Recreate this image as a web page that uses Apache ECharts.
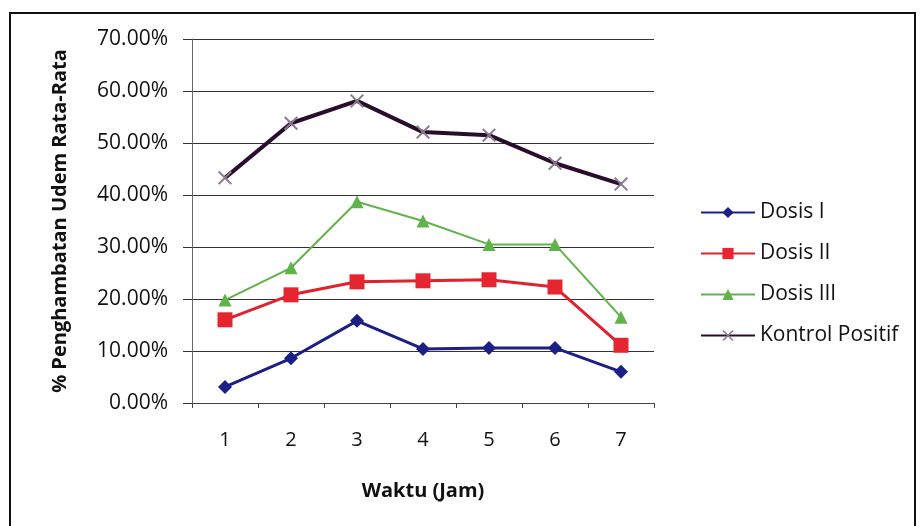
<!DOCTYPE html>
<html>
<head>
<meta charset="utf-8">
<script src="https://cdn.jsdelivr.net/npm/echarts@6/dist/echarts.min.js"></script>
<style>
  html, body { margin: 0; padding: 0; background: #ffffff; }
  #chart { width: 922px; height: 526px; }
</style>
</head>
<body>
<div id="chart"></div>
<script>
// Time points (hours)
const categories = ['1', '2', '3', '4', '5', '6', '7'];

// Mean oedema inhibition, in percent
const dosisI = [3.1, 8.6, 15.8, 10.4, 10.6, 10.6, 6.0];
const dosisII = [16.0, 20.8, 23.3, 23.5, 23.7, 22.3, 11.1];
const dosisIII = [19.8, 26.0, 38.7, 35.0, 30.5, 30.5, 16.5];
const kontrolPositif = [43.3, 53.8, 58.1, 52.1, 51.5, 46.1, 42.1];

const seriesNames = ['Dosis I', 'Dosis II', 'Dosis III', 'Kontrol Positif'];

const FONT = '"Open Sans", "Noto Sans", sans-serif';
const xMark = 'path://M0,1L1,0L5,4L9,0L10,1L6,5L10,9L9,10L5,6L1,10L0,9L4,5Z';

const chart = echarts.init(document.getElementById('chart'));

chart.setOption({
  backgroundColor: '#ffffff',
  animation: false,
  textStyle: { fontFamily: FONT },
  graphic: [{
    type: 'rect',
    shape: { x: 10, y: 13, width: 905, height: 530 },
    style: { fill: 'none', stroke: '#111', lineWidth: 2 },
    silent: true
  }],
  grid: { left: 192, right: 268, top: 39, bottom: 123 },
  legend: {
    orient: 'vertical',
    left: 695,
    top: 197,
    itemGap: 20,
    itemWidth: 54,
    itemHeight: 14,
    textStyle: { fontSize: 21, color: '#111', fontFamily: FONT },
    data: seriesNames
  },
  xAxis: {
    type: 'category',
    data: categories,
    boundaryGap: true,
    name: 'Waktu (Jam)',
    nameLocation: 'middle',
    nameGap: 78,
    nameTextStyle: { fontSize: 20, fontWeight: 'bold', color: '#111', fontFamily: FONT },
    axisLine: { show: true, lineStyle: { color: '#444', width: 1 } },
    axisTick: { show: true, alignWithLabel: false, length: 5, lineStyle: { color: '#444' } },
    axisLabel: { fontSize: 20, color: '#111', margin: 27, fontFamily: FONT },
    splitLine: { show: false }
  },
  yAxis: {
    type: 'value',
    min: 0,
    max: 70,
    interval: 10,
    name: '% Penghambatan Udem Rata-Rata',
    nameLocation: 'middle',
    nameRotate: 90,
    nameGap: 122,
    nameTextStyle: { fontSize: 20, fontWeight: 'bold', color: '#111', fontFamily: FONT },
    axisLine: { show: true, lineStyle: { color: '#666', width: 1 } },
    axisTick: { show: true, length: 9, lineStyle: { color: '#333' } },
    axisLabel: {
      fontSize: 21, color: '#111', margin: 24, fontFamily: FONT,
      formatter: v => v.toFixed(2) + '%'
    },
    splitLine: { show: true, lineStyle: { color: '#333', width: 1 } }
  },
  series: [
    {
      name: seriesNames[0], type: 'line', data: dosisI,
      symbol: 'diamond', symbolSize: 14,
      lineStyle: { color: '#1c1f85', width: 3 },
      itemStyle: { color: '#1c1f85' }
    },
    {
      name: seriesNames[1], type: 'line', data: dosisII,
      symbol: 'rect', symbolSize: 15,
      lineStyle: { color: '#e0222e', width: 3 },
      itemStyle: { color: '#e52631' }
    },
    {
      name: seriesNames[2], type: 'line', data: dosisIII,
      symbol: 'triangle', symbolSize: 13,
      lineStyle: { color: '#5fb34a', width: 2 },
      itemStyle: { color: '#5fb34a' }
    },
    {
      name: seriesNames[3], type: 'line', data: kontrolPositif,
      symbol: xMark, symbolSize: 14,
      lineStyle: { color: '#2a0c2c', width: 4 },
      itemStyle: { color: '#8a7a90' }
    }
  ]
});
</script>
</body>
</html>
